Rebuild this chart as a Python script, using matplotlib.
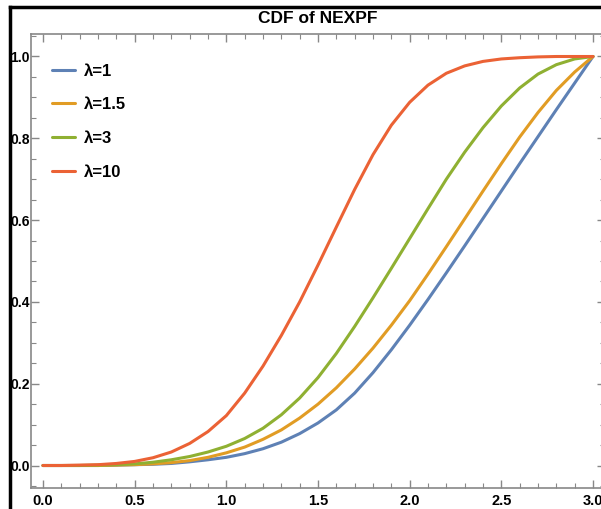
import matplotlib
matplotlib.use("Agg")
import matplotlib.pyplot as plt
from matplotlib.lines import Line2D
from matplotlib.ticker import MultipleLocator, FormatStrFormatter

plt.rcParams['font.family'] = ['Liberation Sans', 'DejaVu Sans']

# values
x = [0.0, 0.1, 0.2, 0.3, 0.4, 0.5, 0.6, 0.7, 0.8, 0.9, 1.0,
     1.1, 1.2, 1.3, 1.4, 1.5, 1.6, 1.7, 1.8, 1.9, 2.0,
     2.1, 2.2, 2.3, 2.4, 2.5, 2.6, 2.7, 2.8, 2.9, 3.0]

cdf_l1 = [0.0, 0.0, 0.0, 0.0, 0.001, 0.002, 0.003, 0.005, 0.009, 0.014, 0.020,
          0.029, 0.041, 0.057, 0.078, 0.104, 0.136, 0.177, 0.227, 0.283, 0.343,
          0.406, 0.471, 0.537, 0.604, 0.671, 0.738, 0.804, 0.870, 0.935, 1.0]
cdf_l15 = [0.0, 0.0, 0.0, 0.0, 0.001, 0.002, 0.004, 0.007, 0.012, 0.020, 0.031,
           0.045, 0.064, 0.087, 0.116, 0.150, 0.190, 0.236, 0.287, 0.343, 0.403,
           0.468, 0.535, 0.603, 0.671, 0.738, 0.803, 0.863, 0.917, 0.962, 1.0]
cdf_l3 = [0.0, 0.0, 0.0, 0.001, 0.002, 0.004, 0.008, 0.014, 0.022, 0.033, 0.047,
          0.066, 0.091, 0.124, 0.165, 0.215, 0.274, 0.340, 0.410, 0.482, 0.555,
          0.628, 0.700, 0.766, 0.826, 0.879, 0.923, 0.957, 0.980, 0.994, 1.0]
cdf_l10 = [0.0, 0.0, 0.001, 0.002, 0.005, 0.010, 0.019, 0.033, 0.054, 0.083, 0.122,
           0.177, 0.243, 0.318, 0.400, 0.490, 0.583, 0.675, 0.760, 0.832, 0.888,
           0.930, 0.959, 0.977, 0.988, 0.994, 0.997, 0.999, 1.0, 1.0, 1.0]

labels = ['λ=1', 'λ=1.5', 'λ=3', 'λ=10']
colors = ['#5E81B5', '#E19C24', '#8FB032', '#EB6235']

fig = plt.figure(figsize=(6.01, 5.09), dpi=100)
ax = fig.add_axes([31 / 601, 1 - 488 / 509, 574 / 601, 454 / 509])

for ys, lab, c in zip([cdf_l1, cdf_l15, cdf_l3, cdf_l10], labels, colors):
    ax.plot(x, ys, color=c, lw=2.2, label=lab, solid_capstyle='round',
            solid_joinstyle='round')

ax.set_xlim(-0.0655, 3.0655)
ax.set_ylim(-0.055, 1.055)

ax.xaxis.set_major_locator(MultipleLocator(0.5))
ax.xaxis.set_minor_locator(MultipleLocator(0.1))
ax.yaxis.set_major_locator(MultipleLocator(0.2))
ax.yaxis.set_minor_locator(MultipleLocator(0.05))
ax.xaxis.set_major_formatter(FormatStrFormatter('%.1f'))
ax.yaxis.set_major_formatter(FormatStrFormatter('%.1f'))

ax.tick_params(which='both', direction='in', top=True, right=True, color='#888888')
ax.tick_params(which='major', length=6, width=1)
ax.tick_params(which='minor', length=3.5, width=0.8)
ax.tick_params(axis='x', pad=4, labelsize=10.5)
ax.tick_params(axis='y', pad=1, labelsize=10)
for lab in ax.get_xticklabels() + ax.get_yticklabels():
    lab.set_fontweight('bold')
for sp in ax.spines.values():
    sp.set_color('#888888')
    sp.set_linewidth(1.2)

ax.set_title('CDF of NEXPF', fontsize=12.5, fontweight='bold', pad=8)

ax.legend(loc='upper left', frameon=False, prop={'weight': 'bold', 'size': 12},
          handlelength=1.4, handletextpad=0.55, labelspacing=1.12,
          bbox_to_anchor=(0.01, 0.968))

# black border of the original screenshot
fig.add_artist(Line2D([10 / 601, 10 / 601], [0, 1 - 7 / 509], color='black', lw=2.5))
fig.add_artist(Line2D([10 / 601, 1], [1 - 7 / 509, 1 - 7 / 509], color='black', lw=2.5))

fig.savefig('out.png', dpi=100)
